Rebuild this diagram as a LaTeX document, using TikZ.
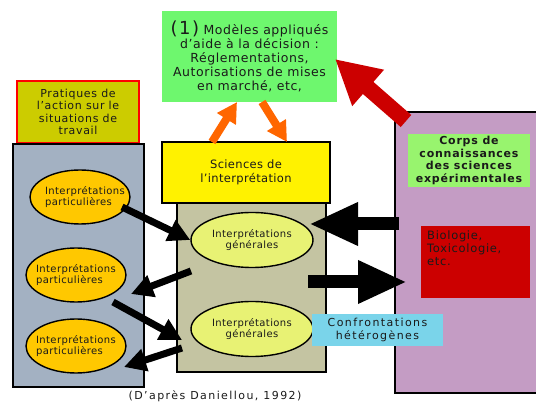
\documentclass[tikz,border=0pt]{standalone}
\usepackage{fontspec}
\setmainfont{DejaVu Sans}
\usetikzlibrary{arrows.meta,shapes.geometric,calc}
\definecolor{topgreen}{HTML}{6EF76E}
\definecolor{olive}{HTML}{CCCC00}
\definecolor{slate}{HTML}{A3B1C2}
\definecolor{tan}{HTML}{C4C4A2}
\definecolor{purp}{HTML}{C49CC4}
\definecolor{corps}{HTML}{98F46E}
\definecolor{darkred}{HTML}{CC0000}
\definecolor{cyanbox}{HTML}{7AD4EA}
\definecolor{orangeel}{HTML}{FFC800}
\definecolor{lightel}{HTML}{E8F274}
\definecolor{orangear}{HTML}{FF6600}
\definecolor{txt}{HTML}{1A1A1A}
\newcommand{\fsz}[3]{\fontsize{#1}{#2}\selectfont\addfontfeatures{LetterSpace=#3}}
\tikzset{
  boxnode/.style={rectangle, inner sep=0pt, align=center, text=txt},
  pell/.style={ellipse, draw=black, line width=1.4pt, fill=orangeel, inner sep=0pt, minimum width=100pt, minimum height=54pt},
  gell/.style={ellipse, draw=black, line width=1.4pt, fill=lightel, inner sep=0pt, minimum width=122pt, minimum height=55pt},
  eltext/.style={align=left, inner sep=0pt, text=txt, font=\fsz{10}{11.5}{4}},
  bigblack/.style={draw=black, line width=13pt, -{Triangle[width=40pt,length=49pt]}},
  smallblack/.style={draw=black, line width=7pt, -{Triangle[width=22pt,length=22pt]}},
  orangearrow/.style={draw=orangear, line width=8pt, -{Triangle[width=21pt,length=20pt]}},
  redarrow/.style={draw=darkred, line width=16pt, -{Triangle[width=45pt,length=44pt]}}
}
\begin{document}
\begin{tikzpicture}[x=1pt,y=-1pt]
\useasboundingbox (0,0) rectangle (536,403);
% top green box
\node[boxnode, fill=topgreen, minimum width=175pt, minimum height=91pt, font=\fsz{12.5}{14}{4.5}] (model) at (249.5,56.5)
  {{\fsz{18}{16}{8}(1)} Modèles appliqués\\d'aide à la décision :\\Réglementations,\\Autorisations de mises\\en marché, etc,};
% pratiques
\node[boxnode, fill=olive, draw=red, line width=1.2pt, minimum width=122pt, minimum height=62pt, font=\fsz{11}{12.5}{6}] (prat) at (78,112)
  {Pratiques de\\l’action sur le\\situations de\\travail};
% gray box
\node[boxnode, fill=slate, draw=black, line width=1.5pt, minimum width=131pt, minimum height=243pt] (gray) at (78.5,265.5) {};
% tan box and yellow
\node[boxnode, fill=tan, draw=black, line width=1.5pt, minimum width=149pt, minimum height=169pt] (tanb) at (251.5,287.5) {};
\node[boxnode, fill=yellow, draw=black, line width=1.5pt, minimum width=168pt, minimum height=61pt, font=\fsz{11.5}{14}{3}] (sci) at (246,172.5)
  {Sciences de\\l’interprétation};
% purple box
\node[boxnode, fill=purp, draw=black, line width=1.5pt, minimum width=150pt, minimum height=281pt] (purple) at (470,252.5) {};
\node[boxnode, fill=corps, minimum width=122pt, minimum height=53pt, font=\bfseries\fsz{11}{12.4}{7}] (corps) at (469,160.5)
  {Corps de\\connaissances\\des sciences\\expérimentales};
\node[boxnode, fill=darkred, minimum width=109pt, minimum height=72pt] (bio) at (475.5,262) {};
\node[anchor=north west, align=left, inner sep=0pt, text=txt, font=\fsz{11.5}{13}{6}] (biotext) at (427,231)
  {Biologie,\\Toxicologie,\\etc.};
% ellipses
\node[pell] (p1) at (80,197) {};
\node[eltext] at ($(p1)+(5,0)$) {Interprétations\\particulières};
\node[pell] (p2) at (76,275) {};
\node[eltext] at (p2) {Interprétations\\particulières};
\node[pell] (p3) at (76,346) {};
\node[eltext] at (p3) {Interprétations\\particulières};
\node[gell] (g1) at (252,240) {};
\node[eltext, align=center] at (g1) {Interprétations\\générales};
\node[gell] (g2) at (252,329) {};
\node[eltext, align=center] at (g2) {Interprétations\\générales};
% cyan
\node[boxnode, fill=cyanbox, minimum width=131pt, minimum height=32pt, font=\fsz{11}{12.7}{13}] (conf) at (377.5,330)
  {Confrontations\\hétérogènes};
% caption
\node[inner sep=0pt, text=txt, font=\fsz{11}{12}{13}] (cap) at (215,396) {(D'après Daniellou, 1992)};
% arrows
\coordinate (o1s) at (212,142); \coordinate (o1e) at (237,102);
\coordinate (o2s) at (262,102); \coordinate (o2e) at (287,142);
\draw[orangearrow] (o1s) -- (o1e);
\draw[orangearrow] (o2s) -- (o2e);
\coordinate (rs) at (406,121);
\draw[redarrow] (rs) -- (335,59);
\coordinate (a1s) at (122,207);
\draw[smallblack] (a1s) -- (g1.west);
\coordinate (a2s) at (191,271); \coordinate (a2e) at (131,294);
\draw[smallblack] (a2s) -- (a2e);
\coordinate (a3s) at (113,302); \coordinate (a3e) at (182,340);
\draw[smallblack] (a3s) -- (a3e);
\coordinate (a4s) at (182,348); \coordinate (a4e) at (124,367);
\draw[smallblack] (a4s) -- (a4e);
\coordinate (b1s) at (399,224); \coordinate (b1e) at (309,224);
\draw[bigblack] (b1s) -- (b1e);
\coordinate (b2s) at (308,282); \coordinate (b2e) at (407,282);
\draw[bigblack] (b2s) -- (b2e);
\end{tikzpicture}
\end{document}
